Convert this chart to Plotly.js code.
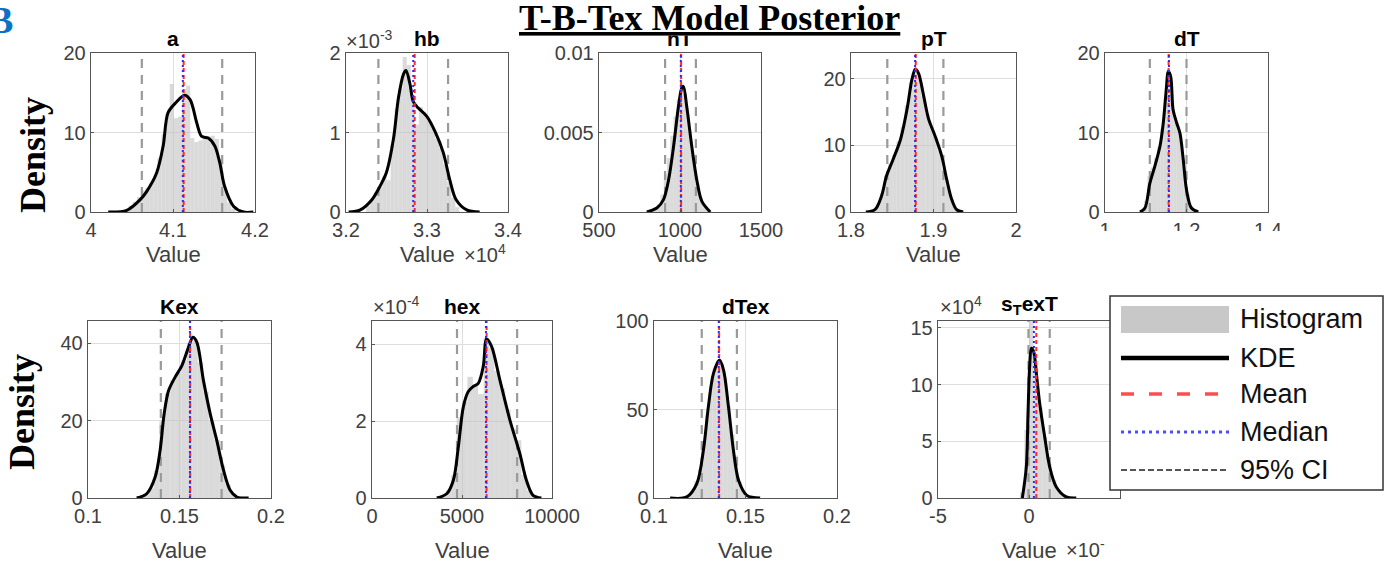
<!DOCTYPE html>
<html><head><meta charset="utf-8">
<script src="https://cdn.plot.ly/plotly-3.0.1.min.js"></script>
<style>html,body{margin:0;padding:0;background:#fff;overflow:hidden}</style>
</head><body><div id="chart" style="width:1395px;height:573px"></div>
<script>
// ---------------- DATA ----------------
const panelNames = ['a','hb','hT','pT','dT','Kex','hex','dTex','s<sub>T</sub>exT'];
const binWidths  = [0.005, 0.005, 20, 0.005, 0.008, 0.003, 300, 0.002, 0.25];

// a
const a_histX = [4.0435,4.0485,4.0535,4.0585,4.0635,4.0685,4.0735,4.0785,4.0835,4.0885,4.0935,4.0985,4.1035,4.1085,4.1135,4.1185,4.1235,4.1285,4.1335,4.1385,4.1435,4.1485,4.1535,4.1585,4.1635,4.1685,4.1735];
const a_histY = [0.3,0.8,1.3,1.9,2.7,3.0,3.6,4.6,6.8,9.8,12.4,16.1,11.8,12.0,15.4,15.9,9.3,8.8,9.0,9.6,9.5,9.6,9.2,6.6,2.8,1.2,0.4];
const a_kdeX = [4.021,4.0435,4.060,4.068,4.080,4.088,4.094,4.104,4.114,4.121,4.129,4.135,4.143,4.151,4.157,4.163,4.174,4.186,4.198];
const a_kdeY = [0,0.2,1.55,2.6,4.9,8.3,12.5,13.8,14.7,14.1,11.2,9.5,9.3,8.3,6.2,3.2,0.7,0,0];

// hb (x in 1e4, y in 1e-3)
const hb_histX = [3.2275,3.2325,3.2375,3.2425,3.2475,3.2525,3.2575,3.2625,3.2675,3.2725,3.2775,3.2825,3.2875,3.2925,3.2975,3.3025,3.3075,3.3125,3.3175,3.3225,3.3275,3.3325,3.3375];
const hb_histY = [0.08,0.15,0.25,0.32,0.45,0.40,0.85,1.30,1.55,1.95,1.85,1.45,1.10,1.32,1.22,1.15,1.05,0.92,0.80,0.60,0.38,0.18,0.06];
const hb_kdeX = [3.2033,3.2176,3.232,3.242,3.250,3.2586,3.2648,3.271,3.274,3.279,3.283,3.289,3.300,3.310,3.320,3.328,3.336,3.349,3.365];
const hb_kdeY = [0,0.026,0.154,0.325,0.50,0.92,1.44,1.735,1.78,1.61,1.39,1.31,1.20,1.01,0.75,0.41,0.154,0.026,0];

// hT
const hT_histX = [830,850,870,890,910,930,950,970,990,1010,1030,1050,1070,1090,1110,1130,1150,1170];
const hT_histY = [0.0001,0.0002,0.0005,0.0011,0.0024,0.0034,0.0048,0.0060,0.0071,0.0080,0.0074,0.0061,0.0045,0.0031,0.0018,0.0009,0.0004,0.0001];
const hT_kdeX = [795,857,898,929,960,990,1011,1021,1042,1073,1104,1135,1187];
const hT_kdeY = [0,0.00025,0.00078,0.0020,0.0041,0.0066,0.0078,0.0079,0.0066,0.0041,0.0020,0.00067,0];

// pT
const pT_histX = [1.8225,1.8275,1.8325,1.8375,1.8425,1.8475,1.8525,1.8575,1.8625,1.8675,1.8725,1.8775,1.8825,1.8875,1.8925,1.8975,1.9025,1.9075,1.9125,1.9175,1.9225,1.9275,1.9325];
const pT_histY = [0.1,0.4,1.2,2.8,5.5,7.2,8.6,10.6,12.8,16.0,19.5,21.6,20.0,17.5,14.8,12.8,11.2,9.2,6.5,4.0,1.9,0.6,0.1];
const pT_kdeX = [1.818,1.829,1.837,1.843,1.851,1.860,1.868,1.874,1.878,1.882,1.888,1.894,1.902,1.910,1.916,1.922,1.928,1.936];
const pT_kdeY = [0,0.35,2.4,5.4,7.9,10.9,15.5,20,21.5,20.8,17.5,14.0,11.4,8.4,4.9,1.9,0.35,0];

// dT
const dT_histX = [1.092,1.100,1.108,1.116,1.124,1.132,1.140,1.148,1.156,1.164,1.172,1.180,1.188,1.196,1.204,1.212,1.220];
const dT_histY = [0.3,1.4,4.5,5.6,6.8,8.2,10.5,14.2,17.5,14.8,11.8,10.6,8.6,5.0,2.2,0.7,0.2];
const dT_kdeX = [1.0857,1.098,1.110,1.122,1.135,1.143,1.151,1.155,1.161,1.167,1.176,1.184,1.192,1.200,1.212,1.229];
const dT_kdeY = [0,0.5,3.6,5.7,8.3,11.2,15.8,17.7,17.1,12.9,11.2,9.9,6.6,2.8,0.5,0];

// Kex
const Kex_histX = [0.1285,0.1315,0.1345,0.1375,0.1405,0.1435,0.1465,0.1495,0.1525,0.1555,0.1585,0.1615,0.1645,0.1675,0.1705,0.1735,0.1765,0.1795,0.1825,0.1855];
const Kex_histY = [0.2,0.8,2.5,7.0,19.8,27.0,30.5,32.5,35.5,40.0,41.0,35.0,27.5,20.0,15.0,8.5,3.5,1.2,0.4,0.1];
const Kex_kdeX = [0.1266,0.1321,0.1367,0.1394,0.1416,0.1440,0.1476,0.1513,0.1549,0.1573,0.1595,0.1631,0.1668,0.1704,0.1741,0.1777,0.1814,0.1878];
const Kex_kdeY = [0,1.1,5.4,12.3,21.7,27.7,31.2,34.2,38.9,41.5,40.2,30.3,21.7,14.8,7.1,2.0,0.26,0];

// hex (y in 1e-4)
const hex_histX = [3950,4250,4550,4850,5150,5450,5750,6050,6350,6650,6950,7250,7550,7850,8150,8450,8750,9050];
const hex_histY = [0.05,0.2,0.6,2.1,2.5,3.15,2.95,2.7,4.15,3.9,3.3,2.85,2.3,1.8,1.5,0.6,0.2,0.05];
const hex_kdeX = [3598,4151,4520,4797,5074,5350,5627,5904,6181,6365,6642,7103,7657,8210,8579,8948,9410];
const hex_kdeY = [0,0.11,0.46,1.33,2.37,2.77,2.90,2.98,3.42,4.13,3.94,3.07,2.03,1.16,0.46,0.07,0];

// dTex
const dTex_histX = [0.117,0.119,0.121,0.123,0.125,0.127,0.129,0.131,0.133,0.135,0.137,0.139,0.141,0.143,0.145,0.147,0.149,0.151,0.153];
const dTex_histY = [0.5,1.5,4.5,9.5,16,31,47,63,73,78,76,68,52,36,24,9,3.5,1,0.3];
const dTex_kdeX = [0.1088,0.1179,0.1234,0.1270,0.1297,0.1325,0.1358,0.1380,0.1407,0.1434,0.1462,0.1507,0.1580];
const dTex_kdeY = [0,0.6,8.1,27,51.5,70.4,77.9,72.3,51.5,27,10,1.5,0];

// s_TexT (y in 1e4)
const sTexT_histX = [-0.375,-0.125,0.125,0.375,0.625,0.875,1.125,1.375,1.625,1.875];
const sTexT_histY = [0.5,6.0,16.5,11.8,8.0,5.4,3.0,1.6,0.7,0.2];
const sTexT_kdeX = [-0.366,-0.147,-0.055,0.037,0.128,0.256,0.403,0.586,0.861,1.136,1.50,2.05,2.60];
const sTexT_kdeY = [0,2.74,7.46,11.6,13.2,12.9,11.0,8.35,5.4,2.74,0.97,0.09,0];

// summary statistics per panel
const meanVals   = [4.113, 3.2848, 1007, 1.8785, 1.156, 0.1558, 6365, 0.1356, 0.40];
const medianVals = [4.112, 3.2830, 1005, 1.8777, 1.157, 0.1557, 6330, 0.1354, 0.27];
const ciLow      = [4.062, 3.2400,  908, 1.8440, 1.110, 0.1398, 4723, 0.1261, -0.03];
const ciHigh     = [4.160, 3.3260, 1098, 1.9120, 1.200, 0.1730, 8063, 0.1453, 1.14];

// axis ticks
const xTickVals = [[4,4.1,4.2],[3.2,3.3,3.4],[500,1000,1500],[1.8,1.9,2],[1,1.2,1.4],[0.1,0.15,0.2],[0,5000,10000],[0.1,0.15,0.2],[-5,0]];
const xTickText = [['4','4.1','4.2'],['3.2','3.3','3.4'],['500','1000','1500'],['1.8','1.9','2'],['1','1.2','1.4'],['0.1','0.15','0.2'],['0','5000','10000'],['0.1','0.15','0.2'],['-5','0']];
const yTickVals = [[0,10,20],[0,1,2],[0,0.005,0.01],[0,10,20],[0,10,20],[0,20,40],[0,2,4],[0,50,100],[0,5,10,15]];
const yTickText = [['0','10','20'],['0','1','2'],['0','0.005','0.01'],['0','10','20'],['0','10','20'],['0','20','40'],['0','2','4'],['0','50','100'],['0','5','10','15']];
const xRanges = [[4,4.2],[3.2,3.4],[500,1500],[1.8,2],[1,1.4],[0.1,0.2],[0,10000],[0.1,0.2],[-5,5]];
const yRanges = [[0,20],[0,2],[0,0.01],[0,23.9],[0,20],[0,45.7],[0,4.6],[0,100],[0,15.6]];

const histXs = [a_histX,hb_histX,hT_histX,pT_histX,dT_histX,Kex_histX,hex_histX,dTex_histX,sTexT_histX];
const histYs = [a_histY,hb_histY,hT_histY,pT_histY,dT_histY,Kex_histY,hex_histY,dTex_histY,sTexT_histY];
const kdeXs  = [a_kdeX,hb_kdeX,hT_kdeX,pT_kdeX,dT_kdeX,Kex_kdeX,hex_kdeX,dTex_kdeX,sTexT_kdeX];
const kdeYs  = [a_kdeY,hb_kdeY,hT_kdeY,pT_kdeY,dT_kdeY,Kex_kdeY,hex_kdeY,dTex_kdeY,sTexT_kdeY];

// ---------------- LAYOUT ----------------
const W = 1395, H = 573;
const PX = p => p / W, PY = p => 1 - p / H;
const boxes = [
  [91,255,53,212],[346,508,53,212],[599,761,53,212],[851,1016,53,212],[1105,1268,53,212],
  [88,271,321,498],[372,552,321,498],[654,837,321,498],[938,1120,321,498]
];
const SANS = 'Liberation Sans, Arial, Helvetica, sans-serif';
const SERIF = 'Liberation Serif, Times New Roman, serif';
const tickFont = {family: SANS, size: 20, color: '#404040'};

const traces = [];
const layout = {
  width: W, height: H, margin: {l:0, r:0, t:0, b:0},
  paper_bgcolor: '#fff', plot_bgcolor: '#fff', showlegend: false,
  annotations: [], shapes: []
};

for (let i = 0; i < 9; i++) {
  const sfx = i === 0 ? '' : String(i + 1);
  const xa = 'x' + sfx, ya = 'y' + sfx;
  const [x0, x1, y0, y1] = boxes[i];
  const common = {
    showgrid: true, gridcolor: '#dedede', gridwidth: 1, zeroline: false,
    showline: true, mirror: true, linecolor: '#555', linewidth: 1.3,
    ticks: 'inside', ticklen: 3, tickcolor: '#555', tickfont: tickFont, fixedrange: true
  };
  layout['xaxis' + sfx] = Object.assign({}, common, {
    domain: [PX(x0), PX(x1)], anchor: ya, range: xRanges[i],
    tickmode: 'array', tickvals: xTickVals[i], ticktext: xTickText[i]
  });
  layout['yaxis' + sfx] = Object.assign({}, common, {
    domain: [PY(y1), PY(y0)], anchor: xa, range: yRanges[i],
    tickmode: 'array', tickvals: yTickVals[i], ticktext: yTickText[i]
  });

  const top = yRanges[i][1];
  traces.push({type: 'bar', x: histXs[i], y: histYs[i], width: binWidths[i], xaxis: xa, yaxis: ya,
    marker: {color: 'rgba(195,195,195,0.62)', line: {width: 0}}, hoverinfo: 'skip'});
  traces.push({type: 'scatter', mode: 'lines', x: [ciLow[i], ciLow[i]], y: [0, top], xaxis: xa, yaxis: ya,
    line: {color: '#9a9a9a', width: 2.2, dash: '9px,7px'}, hoverinfo: 'skip'});
  traces.push({type: 'scatter', mode: 'lines', x: [ciHigh[i], ciHigh[i]], y: [0, top], xaxis: xa, yaxis: ya,
    line: {color: '#9a9a9a', width: 2.2, dash: '9px,7px'}, hoverinfo: 'skip'});
  traces.push({type: 'scatter', mode: 'lines', x: kdeXs[i], y: kdeYs[i], xaxis: xa, yaxis: ya,
    line: {color: '#000', width: 3, shape: 'spline', smoothing: 0.9}, hoverinfo: 'skip'});
  traces.push({type: 'scatter', mode: 'lines', x: [meanVals[i], meanVals[i]], y: [0, top], xaxis: xa, yaxis: ya,
    line: {color: '#ff2a2a', width: 2, dash: '4px,3px'}, hoverinfo: 'skip'});
  traces.push({type: 'scatter', mode: 'lines', x: [medianVals[i], medianVals[i]], y: [0, top], xaxis: xa, yaxis: ya,
    line: {color: '#2a2aff', width: 2, dash: '2px,3px'}, hoverinfo: 'skip'});

  // subplot title
  layout.annotations.push({xref: 'paper', yref: 'paper', x: PX((x0 + x1) / 2), y: PY(y0 - 1),
    xanchor: 'center', yanchor: 'bottom', showarrow: false, text: '<b>' + panelNames[i] + '</b>',
    font: {family: SANS, size: 21, color: '#000'}});
  // x axis label
  if (i !== 4) {
    layout.annotations.push({xref: 'paper', yref: 'paper', x: PX((x0 + x1) / 2), y: PY(i < 5 ? 254 : 550),
      xanchor: 'center', yanchor: 'middle', showarrow: false, text: 'Value',
      font: {family: SANS, size: 22, color: '#404040'}});
  }
}

// exponent labels
const expo = (txt, xp, yp, anchorX) => layout.annotations.push({xref: 'paper', yref: 'paper', x: PX(xp), y: PY(yp),
  xanchor: anchorX || 'left', yanchor: 'bottom', showarrow: false, text: txt,
  font: {family: SANS, size: 20, color: '#404040'}});
expo('×10<sup>-3</sup>', 344, 54);
expo('×10<sup>4</sup>', 462, 268);
expo('×10<sup>-4</sup>', 371, 320);
expo('×10<sup>4</sup>', 938, 320);
expo('×10<sup>-</sup>', 1064, 563);

// Density labels
layout.annotations.push({xref: 'paper', yref: 'paper', x: PX(33), y: PY(155), textangle: -90, showarrow: false,
  xanchor: 'center', yanchor: 'middle', text: '<b>Density</b>', font: {family: SERIF, size: 36, color: '#000'}});
layout.annotations.push({xref: 'paper', yref: 'paper', x: PX(22), y: PY(412), textangle: -90, showarrow: false,
  xanchor: 'center', yanchor: 'middle', text: '<b>Density</b>', font: {family: SERIF, size: 36, color: '#000'}});
// panel letter
layout.annotations.push({xref: 'paper', yref: 'paper', x: PX(15), y: PY(20), showarrow: false,
  xanchor: 'right', yanchor: 'middle', text: '<b>B</b>', font: {family: SERIF, size: 38, color: '#0a72c4'}});
// white band of the main title that hides the top of the "hT" heading
layout.annotations.push({xref: 'paper', yref: 'paper', x: PX(680), y: PY(18), showarrow: false,
  xanchor: 'center', yanchor: 'middle', text: ' ', width: 70, height: 34, bgcolor: '#fff', borderpad: 0,
  font: {family: SANS, size: 10, color: '#fff'}});
// main title
layout.annotations.push({xref: 'paper', yref: 'paper', x: PX(709), y: PY(18), showarrow: false,
  xanchor: 'center', yanchor: 'middle', text: '<b><u>T-B-Tex Model Posterior</u></b>',
  font: {family: SERIF, size: 36, color: '#000'}});

// cropped areas of the source figure
layout.shapes.push({type: 'rect', xref: 'paper', yref: 'paper', layer: 'above', x0: PX(1080), x1: PX(1395), y0: PY(285), y1: PY(231),
  fillcolor: '#fff', line: {width: 0}});

// legend (drawn as a key box)
const LX0 = 1110, LX1 = 1383, LY0 = 296, LY1 = 490, SX0 = 1121, SX1 = 1229, TX = 1238;
const legendLabels = ['Histogram', 'KDE', 'Mean', 'Median', '95% CI'];
const legendRows = [319, 358, 394, 432, 470];
layout.shapes.push({type: 'rect', xref: 'paper', yref: 'paper', layer: 'above', x0: PX(LX0), x1: PX(LX1), y0: PY(LY1), y1: PY(LY0),
  fillcolor: '#fff', line: {color: '#333', width: 1.5}});
layout.shapes.push({type: 'rect', xref: 'paper', yref: 'paper', layer: 'above', x0: PX(SX0), x1: PX(SX1), y0: PY(333), y1: PY(306),
  fillcolor: '#c8c8c8', line: {width: 0}});
const keyLine = (row, color, width, dash) => layout.shapes.push({type: 'line', xref: 'paper', yref: 'paper', layer: 'above',
  x0: PX(SX0), x1: PX(SX1), y0: PY(row), y1: PY(row), line: {color: color, width: width, dash: dash}});
keyLine(legendRows[1], '#000', 4.5, 'solid');
keyLine(legendRows[2], '#ff4d4d', 3.5, '13px,15px');
keyLine(legendRows[3], '#4d4dff', 3, '3px,4px');
keyLine(legendRows[4], '#555', 2, '6px,3px');
legendLabels.forEach((t, k) => layout.annotations.push({xref: 'paper', yref: 'paper', x: PX(TX), y: PY(legendRows[k]),
  xanchor: 'left', yanchor: 'middle', showarrow: false, text: t, font: {family: SANS, size: 27, color: '#111'}}));

Plotly.newPlot('chart', traces, layout, {staticPlot: true, displayModeBar: false});
</script></body></html>
